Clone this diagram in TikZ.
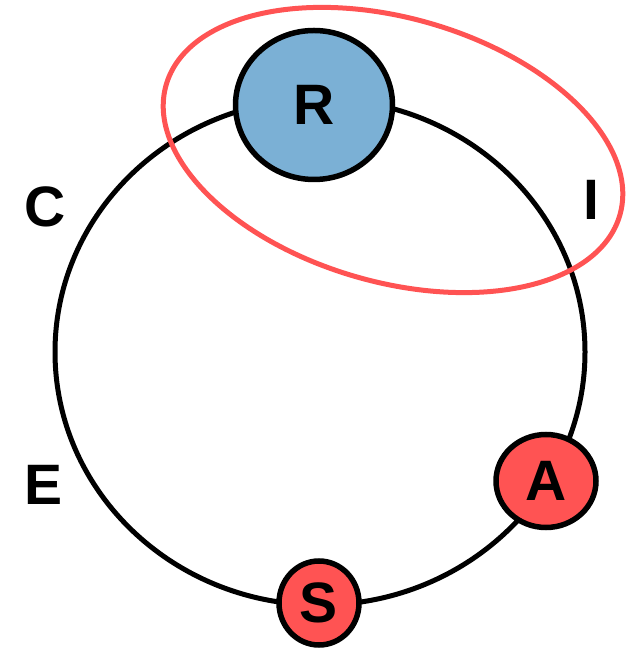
\documentclass[tikz,border=0pt]{standalone}
\usepackage{fontspec}
\setmainfont{Liberation Sans}
\usepackage{xcolor}
\usetikzlibrary{shapes.geometric}
\definecolor{ringblue}{HTML}{7BB0D5}
\definecolor{ringred}{HTML}{FF5353}

\begin{document}
\begin{tikzpicture}[x=1pt,y=1pt,
  letter/.style={font=\fontsize{57}{60}\selectfont\bfseries,inner sep=0pt},
  station/.style={ellipse,draw=black,line width=5.5pt,inner sep=0pt,letter}]
  \useasboundingbox (0,0) rectangle (633,648);

  \draw[line width=5pt] (320,296) ellipse [x radius=265pt, y radius=253pt];

  \node[station,fill=ringblue,minimum width=157pt,minimum height=149pt] (r) at (314,543) {R};
  \node[station,fill=ringred,minimum width=100pt,minimum height=93pt] (a) at (546,167) {A};
  \node[station,fill=ringred,minimum width=80pt,minimum height=84pt] (s) at (319,45) {S};

  \node[letter] (c) at (45,441) {C};
  \node[letter] (i) at (591,448) {I};
  \node[letter] (e) at (44,163) {E};

  \draw[ringred,line width=5pt,rotate around={-16:(393,498)}] (393,498) ellipse [x radius=236pt, y radius=132pt];
\end{tikzpicture}
\end{document}
